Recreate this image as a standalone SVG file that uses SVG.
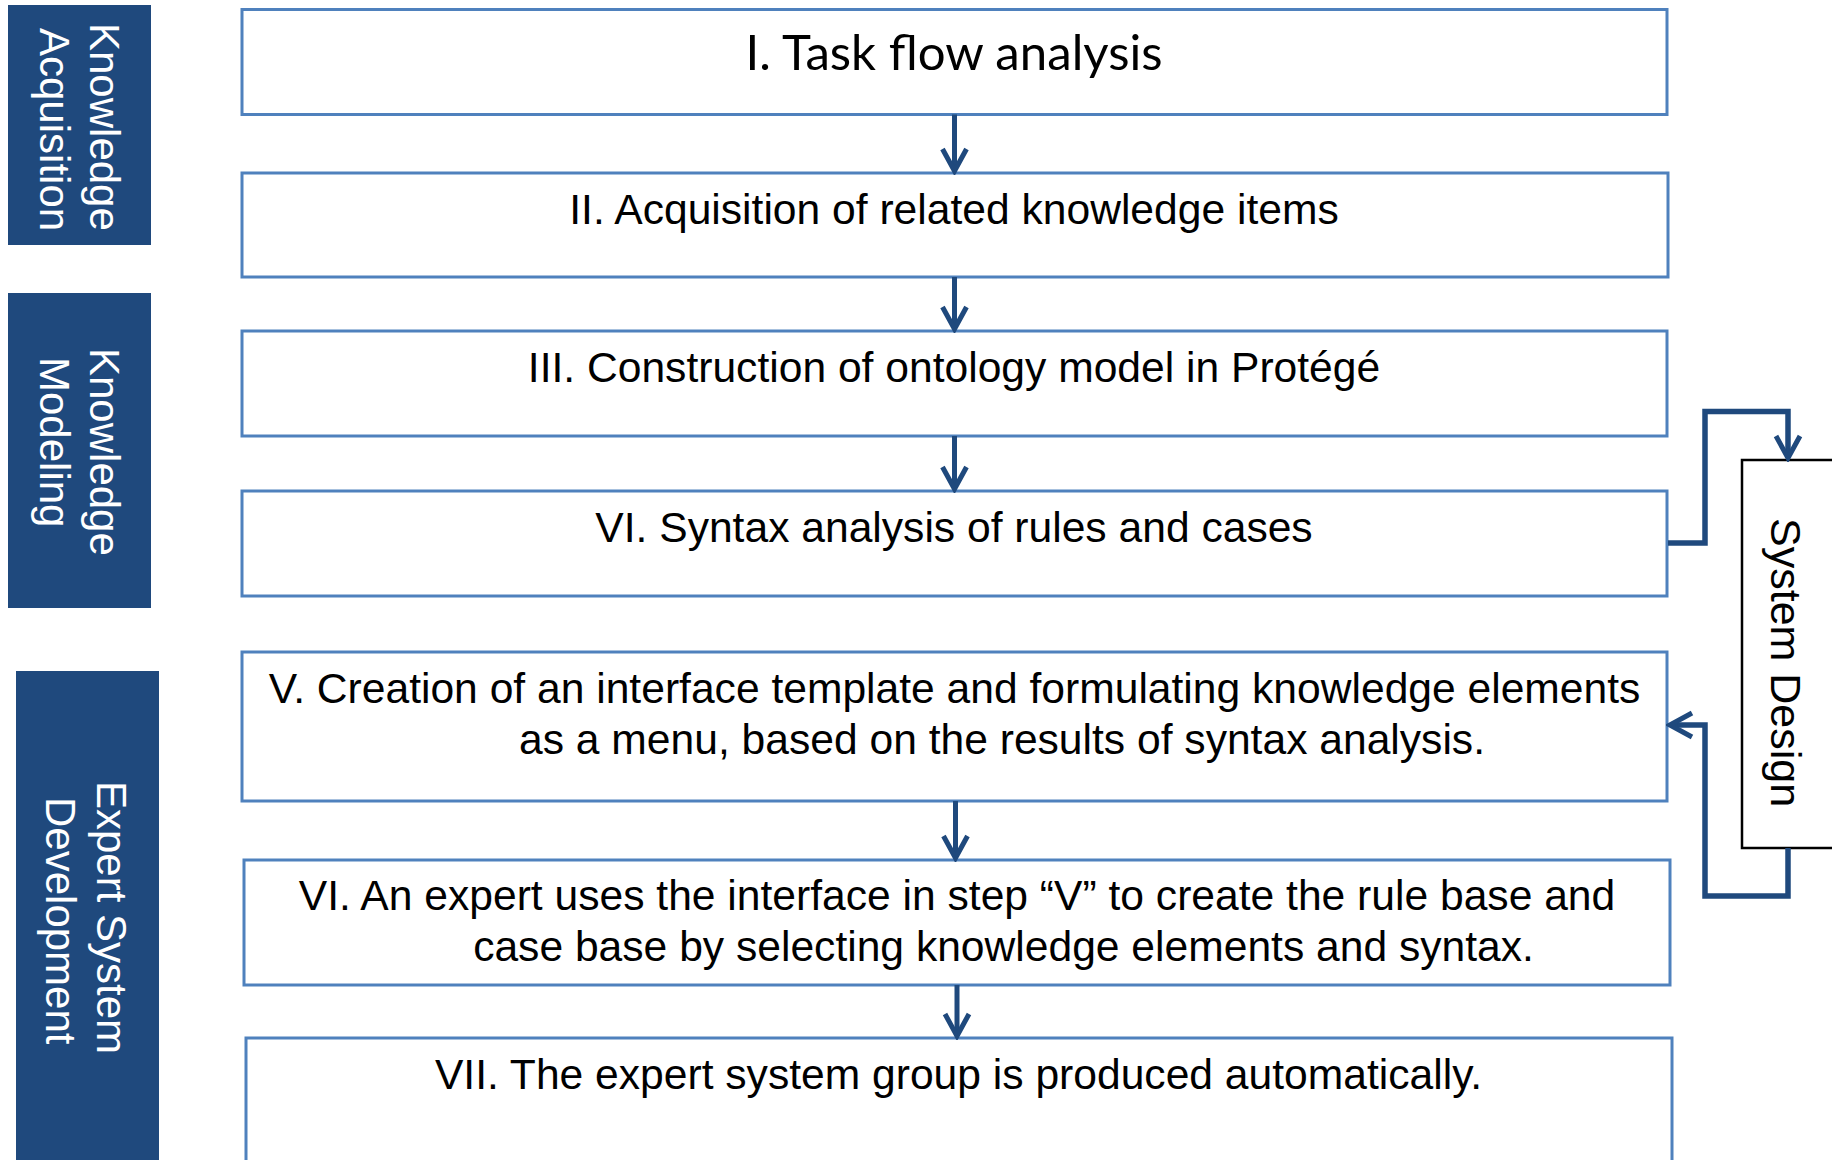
<svg xmlns="http://www.w3.org/2000/svg" width="1832" height="1160" viewBox="0 0 1832 1160">
<style>
.hdr{fill:#1F497D}
.box{fill:#fff;stroke:#4F81BD;stroke-width:3}
.sd{fill:#fff;stroke:#000;stroke-width:2.5}
.t{font-family:"Liberation Sans",Arial,sans-serif;font-size:42.6px;fill:#000}
.tc{font-family:Lato,"Open Sans",sans-serif;font-size:49px;fill:#000}
.w{font-family:"Liberation Sans",Arial,sans-serif;font-size:42px;fill:#fff}
.c{fill:none;stroke:#1F497D;stroke-width:5;stroke-linejoin:miter}
.cs{fill:none;stroke:#1F497D;stroke-width:5.5;stroke-linejoin:miter}
</style>
<defs>
<marker id="ah" viewBox="-30 -18 34 36" refX="0" refY="0" markerWidth="34" markerHeight="36" markerUnits="userSpaceOnUse" orient="auto">
<path d="M-22,-12 L0,0 L-22,12" fill="none" stroke="#1F497D" stroke-width="5" stroke-linejoin="miter"/>
</marker>
</defs>
<rect width="1832" height="1160" fill="#fff"/>

<g id="ka">
<rect class="hdr" x="8" y="5" width="143" height="240"/>
<text class="w" transform="translate(90,23) rotate(90)">Knowledge</text>
<text class="w" transform="translate(40,28) rotate(90)">Acquisition</text>
</g>
<g id="km">
<rect class="hdr" x="8" y="293" width="143" height="315"/>
<text class="w" transform="translate(90,348) rotate(90)">Knowledge</text>
<text class="w" transform="translate(40,357) rotate(90)">Modeling</text>
</g>
<g id="esd">
<rect class="hdr" x="16" y="671" width="143" height="500"/>
<text class="w" transform="translate(97,781) rotate(90)">Expert System</text>
<text class="w" transform="translate(46,797) rotate(90)">Development</text>
</g>

<g id="n1">
<rect class="box" x="242" y="9.5" width="1425" height="105"/>
<text class="tc" x="954" y="70" text-anchor="middle" textLength="417" lengthAdjust="spacingAndGlyphs">I. Task flow analysis</text>
</g>
<g id="n2">
<rect class="box" x="242" y="173" width="1426" height="104"/>
<text class="t" x="954" y="224" text-anchor="middle">II. Acquisition of related knowledge items</text>
</g>
<g id="n3">
<rect class="box" x="242" y="331" width="1425" height="105"/>
<text class="t" x="954" y="382" text-anchor="middle">III. Construction of ontology model in Protégé</text>
</g>
<g id="n4">
<rect class="box" x="242" y="491" width="1425" height="105"/>
<text class="t" x="954" y="542" text-anchor="middle">VI. Syntax analysis of rules and cases</text>
</g>
<g id="n5">
<rect class="box" x="242" y="652" width="1425" height="149"/>
<text class="t" x="954.5" y="703" text-anchor="middle">V. Creation of an interface template and formulating knowledge elements</text>
<text class="t" x="1002" y="754" text-anchor="middle">as a menu, based on the results of syntax analysis.</text>
</g>
<g id="n6">
<rect class="box" x="244" y="860" width="1426" height="125"/>
<text class="t" x="957" y="910" text-anchor="middle">VI. An expert uses the interface in step “V” to create the rule base and</text>
<text class="t" x="1003.5" y="961" text-anchor="middle">case base by selecting knowledge elements and syntax.</text>
</g>
<g id="n7">
<rect class="box" x="246" y="1038" width="1426" height="200"/>
<text class="t" x="958.5" y="1089" text-anchor="middle">VII. The expert system group is produced automatically.</text>
</g>
<g id="sysdesign">
<rect class="sd" x="1742" y="460" width="95" height="388"/>
<text class="t" style="font-size:43px" transform="translate(1771,518) rotate(90)">System Design</text>
</g>

<g id="connectors">
<path class="c" d="M954.5,114.5 V171" marker-end="url(#ah)"/>
<path class="c" d="M954.5,277 V329" marker-end="url(#ah)"/>
<path class="c" d="M954.5,436 V489" marker-end="url(#ah)"/>
<path class="c" d="M955.5,801 V858" marker-end="url(#ah)"/>
<path class="c" d="M957,985 V1036" marker-end="url(#ah)"/>
<path class="cs" d="M1668,543 H1705 V411.5 H1788 V458" marker-end="url(#ah)"/>
<path class="cs" d="M1788,848 V896 H1705 V725 H1670" marker-end="url(#ah)"/>
</g>
</svg>
